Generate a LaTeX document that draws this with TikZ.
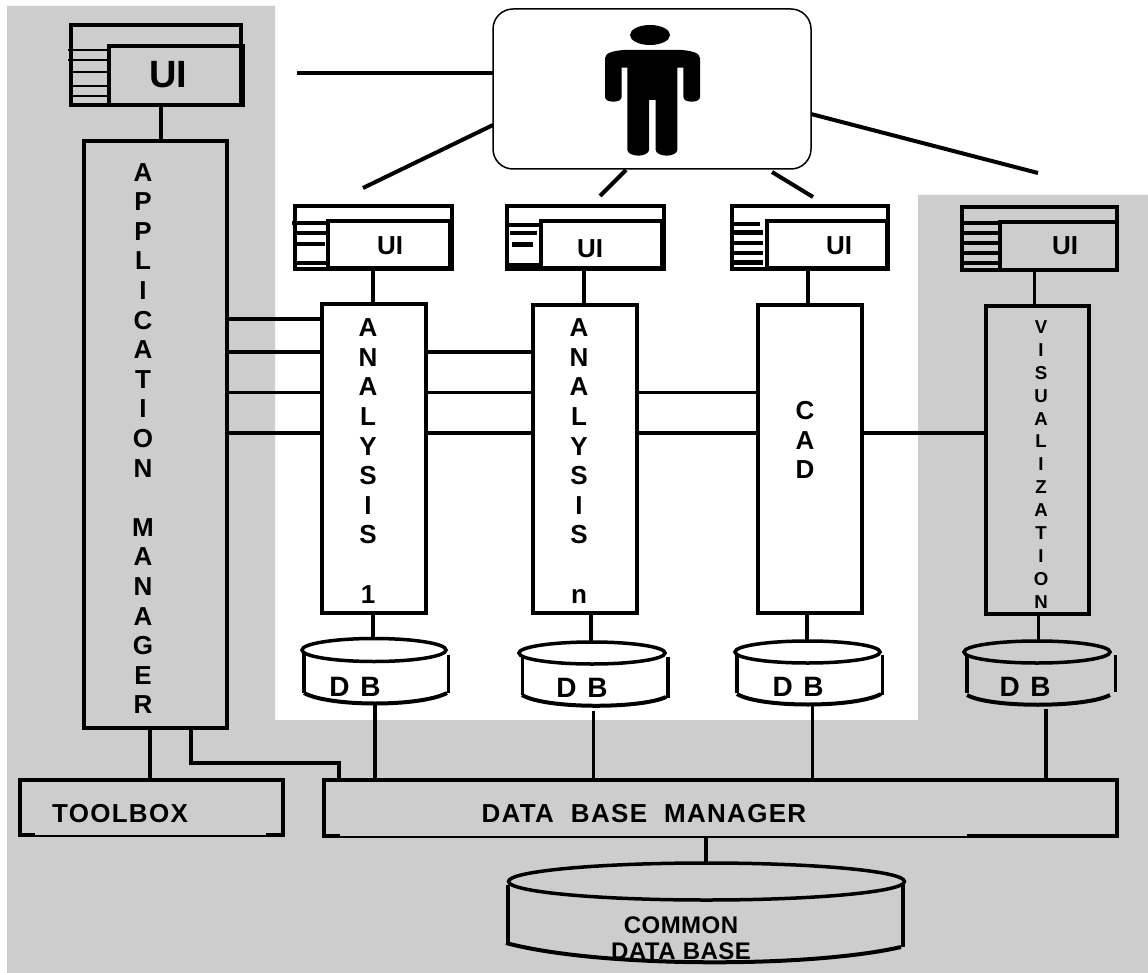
\documentclass[tikz,border=0pt]{standalone}
\usepackage{fontspec}
\setmainfont{Liberation Sans}
\usetikzlibrary{shapes.geometric}
\newfontfamily\wide[LetterSpace=5]{Liberation Sans}
\newfontfamily\slightwide[LetterSpace=2]{Liberation Sans}
\definecolor{panel}{HTML}{CDCDCD}
\newdimen\pxu \pxu=0.75pt
\tikzset{
  lw/.style={line width=#1*\pxu},
  sized/.style 2 args={minimum width=#1*\pxu, minimum height=#2*\pxu, inner sep=0pt, outer sep=0pt},
  frame/.style 2 args={draw, lw=4, sized={#1}{#2}},
  bare/.style 2 args={sized={#1}{#2}},
  disc/.style 2 args={ellipse, draw, lw=3.5, sized={#1}{#2}},
  link/.style={lw=4},
  thinlink/.style={lw=3},
  stripe/.style={lw=2.5},
  fatstripe/.style={lw=4},
  side/.style={lw=4},
  thinside/.style={lw=3},
  biglabel/.style={font=\bfseries\fontsize{28.5pt}{30pt}\selectfont, inner sep=0pt},
  uilabel/.style={font=\bfseries\fontsize{19.5pt}{22pt}\selectfont, inner sep=0pt},
  vtext/.style={font=\bfseries\fontsize{19.5pt}{22.2pt}\selectfont, align=center, inner sep=0pt},
  vsmall/.style={font=\bfseries\fontsize{14pt}{17.2pt}\selectfont, align=center, inner sep=0pt},
  hlabel/.style={font=\wide\bfseries\fontsize{19.5pt}{22pt}\selectfont, inner sep=0pt},
  dblabel/.style={font=\bfseries\fontsize{21pt}{22pt}\selectfont, inner sep=0pt},
  cdblabel/.style={font=\slightwide\bfseries\fontsize{18pt}{19.5pt}\selectfont, inner sep=0pt}
}
\begin{document}
\begin{tikzpicture}[x=0.75pt,y=-0.75pt,line join=miter]
\useasboundingbox (0,0) rectangle (1148,973);
\fill[white] (0,0) rectangle (1148,973);
\fill[panel] (7,6) -- (275,6) -- (275,720) -- (918,720) -- (918,195) -- (1148,195) -- (1148,973) -- (7,973) -- cycle;

% level helpers
\coordinate (r1) at (0,319);
\coordinate (r2) at (0,352);
\coordinate (r3) at (0,392);
\coordinate (r4) at (0,433);

% main boxes
\node[frame={143}{587}] (am) at (155.5,434.5) {};
\node[frame={104}{309}] (an1) at (374,458.5) {};
\node[frame={104}{308}] (ann) at (585,459) {};
\node[frame={104}{308}] (cad) at (810,459) {};
\node[frame={103}{308}] (vis) at (1037.5,460) {};

% text of main boxes
\node[vtext] (amtext) at (143,438.5) {A\\P\\P\\L\\I\\C\\A\\T\\I\\O\\N\\~\\M\\A\\N\\A\\G\\E\\R};
\node[vtext] (an1text) at (368,461) {A\\N\\A\\L\\Y\\S\\I\\S\\~\\1};
\node[vtext] (anntext) at (579,461) {A\\N\\A\\L\\Y\\S\\I\\S\\~\\n};
\node[vtext] (cadtext) at (805,440) {C\\A\\D};
\node[vsmall] (vistext) at (1041,464.5) {V\\I\\S\\U\\A\\L\\I\\Z\\A\\T\\I\\O\\N};

% UI windows
\node[frame={170}{80}] (uiab) at (156,65) {};
\node[frame={134}{59}] (uiaf) at (176,75.5) {};
\node[biglabel] (uiat) at (168,75) {UI};
\node[frame={157}{63}] (ui1b) at (373.5,237.5) {};
\node[frame={122}{47}] (ui1f) at (389,245) {};
\node[uilabel] (ui1t) at (390,246) {UI};
\node[frame={157}{63}] (uinb) at (585.5,237.5) {};
\node[frame={121}{47}] (uinf) at (601.5,245) {};
\node[uilabel] (uint) at (590,249) {UI};
\node[frame={156}{63}] (uicb) at (810,237.5) {};
\node[frame={120}{47}] (uicf) at (827,245) {};
\node[uilabel] (uict) at (839,246) {UI};
\node[frame={155}{63}] (uivb) at (1039.5,238.5) {};
\node[frame={117}{48}] (uivf) at (1058.5,246) {};
\node[uilabel] (uivt) at (1065,246) {UI};

% stripes of the windows
\foreach \yy/\xa in {50/68,60/68,72/71,86/71,96/71} \draw[stripe] (\xa,\yy) -- (uiaf.west |- 0,\yy);
\draw[fatstripe] (292,223) -- (328,223);
\draw[fatstripe] (295,233) -- (328,233);
\draw[fatstripe] (297,244) -- (325,244);
\draw[fatstripe] (297,263) -- (328,263);
\draw[fatstripe] (507,225) -- (541,225);
\draw[fatstripe] (510,233) -- (537,233);
\draw[lw=5] (512,245) -- (533,245);
\draw[fatstripe] (507,265) -- (541,265);
\draw[fatstripe] (732,224) -- (760,224);
\draw[lw=5] (732,233) -- (763,233);
\draw[fatstripe] (732,243) -- (763,243);
\draw[fatstripe] (732,253) -- (763,253);
\draw[lw=5] (732,263) -- (763,263);
\foreach \yy in {223,233,243,253,263} \draw[fatstripe] (962,\yy) -- (1000,\yy);

% person
\node[draw, lw=1.5, fill=white, rounded corners=15pt, sized={318}{160}] (person) at (652,89) {};
\node[ellipse, fill=black, sized={40}{20}] (head) at (650,35) {};
\begin{scope}[shift={(480,0)},scale=0.33333]
\fill[black] (430,150) -- (605,150) .. controls (640,153) and (660,160) .. (660,175) -- (660,290)
  .. controls (660,300) and (650,305) .. (635,305) .. controls (620,305) and (610,300) .. (610,290)
  -- (610,203) -- (592,203) -- (592,450) .. controls (592,460) and (575,467) .. (560,467)
  .. controls (545,467) and (527,460) .. (527,450) -- (527,300) -- (507,300) -- (507,450)
  .. controls (507,460) and (490,467) .. (475,467) .. controls (460,467) and (442,460) .. (442,450)
  -- (442,203) -- (425,203) -- (425,290) .. controls (425,300) and (415,305) .. (400,305)
  .. controls (385,305) and (375,300) .. (375,290) -- (375,175) .. controls (375,160) and (395,153) .. (430,150) -- cycle;
\end{scope}
\coordinate (pfa) at (297,73);
\coordinate (pfb) at (363,188);
\coordinate (pfc) at (600,196);
\coordinate (pfd) at (813,197);
\coordinate (pfe) at (1038,173);
\coordinate (pa) at (person.west |- pfa);
\coordinate (pb) at (493,125);
\coordinate (pc) at (626,170);
\coordinate (pd) at (772,172);
\coordinate (pe) at (811,114);
\draw[link] (pa) -- (pfa);
\draw[link] (pb) -- (pfb);
\draw[link] (pc) -- (pfc);
\draw[link] (pd) -- (pfd);
\draw[link] (pe) -- (pfe);

% UI to box
\coordinate (ca) at (161,0);
\coordinate (c1) at (373,0);
\coordinate (cn) at (584,0);
\coordinate (cc) at (808,0);
\coordinate (cv) at (1034,0);
\draw[link] (uiaf.south -| ca) -- (am.north -| ca);
\draw[link] (ui1f.south -| c1) -- (an1.north -| c1);
\draw[link] (uinf.south -| cn) -- (ann.north -| cn);
\draw[link] (uicf.south -| cc) -- (cad.north -| cc);
\draw[thinlink] (uivf.south -| cv) -- (vis.north -| cv);

% cross links
\draw[link] (am.east |- r1) -- (an1.west |- r1);
\draw[link] (am.east |- r2) -- (an1.west |- r2);
\draw[thinlink] (am.east |- r3) -- (an1.west |- r3);
\draw[link] (am.east |- r4) -- (an1.west |- r4);
\draw[link] (an1.east |- r2) -- (ann.west |- r2);
\draw[thinlink] (an1.east |- r3) -- (ann.west |- r3);
\draw[link] (an1.east |- r4) -- (ann.west |- r4);
\draw[thinlink] (ann.east |- r3) -- (cad.west |- r3);
\draw[link] (ann.east |- r4) -- (cad.west |- r4);
\draw[link] (cad.east |- r4) -- (vis.west |- r4);

% DB cylinders
\node[disc={144}{23}] (db1) at (374,650) {};
\draw[side] (304,653) -- (304,693);
\draw[thinside] (448,655) -- (448,693);
\draw[link] (304,693) .. controls (330,707) and (420,707) .. (447,693);
\node[dblabel] (db1t) at (355,687) {D\kern.1em~B};

\node[disc={146}{22}] (dbn) at (592,653) {};
\draw[thinside] (522,655) -- (522,695);
\draw[side] (668,657) -- (668,698);
\draw[link] (522,695) .. controls (545,709) and (640,709) .. (666,697);
\node[dblabel] (dbnt) at (582,688) {D\kern.1em~B};

\node[disc={145}{22}] (dbc) at (807.5,652) {};
\draw[side] (737,654) -- (737,693);
\draw[thinside] (882,655) -- (882,695);
\draw[link] (737,694) .. controls (760,708) and (855,708) .. (881,694);
\node[dblabel] (dbct) at (798,687) {D\kern.1em~B};

\node[disc={146}{22}] (dbv) at (1037,652) {};
\draw[side] (967,654) -- (967,693);
\draw[thinside] (1115,655) -- (1115,692);
\draw[link] (967,695) .. controls (990,708) and (1085,708) .. (1110,695);
\node[dblabel] (dbvt) at (1025,687) {D\kern.1em~B};

\draw[link] (an1.south -| c1) -- (db1.north -| c1);
\coordinate (cn2) at (591,0);
\coordinate (cc2) at (807,0);
\coordinate (cv2) at (1038,0);
\draw[link] (ann.south -| cn2) -- (dbn.north -| cn2);
\draw[link] (cad.south -| cc2) -- (dbc.north -| cc2);
\draw[thinlink] (vis.south -| cv2) -- (dbv.north -| cv2);

% toolbox and data base manager
\node[bare={263}{55}] (tool) at (151.5,807.5) {};
\draw[side] (35,835) -- (20,835) -- (20,780) -- (283,780) -- (283,835) -- (266,835);
\draw[lw=2] (35,836) -- (266,836);
\node[hlabel] (toolt) at (120,814) {TOOLBOX};
\node[bare={793}{56}] (dbm) at (720.5,808) {};
\draw[side] (340,835.5) -- (324,835.5) -- (324,780) -- (1117,780) -- (1117,835.5) -- (967,835.5);
\draw[lw=2] (340,836.5) -- (967,836.5);
\node[hlabel] (dbmt) at (644,814) {DATA~~BASE~~MANAGER};

\coordinate (cb1) at (150,0);
\coordinate (cb2) at (191,0);
\coordinate (cb3) at (339,0);
\coordinate (rb) at (0,763);
\draw[link] (am.south -| cb1) -- (tool.north -| cb1);
\draw[link] (am.south -| cb2) -- (cb2 |- rb) -- (cb3 |- rb) -- (dbm.north -| cb3);

\coordinate (d1) at (375,0);
\coordinate (d2) at (593,711);
\coordinate (d3) at (812,0);
\coordinate (d4) at (1046,709);
\coordinate (d1top) at (375,703);
\coordinate (d3top) at (812,705);
\draw[link] (d1top) -- (dbm.north -| d1);
\draw[thinlink] (d2) -- (dbm.north -| d2);
\draw[thinlink] (d3top) -- (dbm.north -| d3);
\draw[link] (d4) -- (dbm.north -| d4);

% common data base
\node[disc={396}{37}] (cdb) at (706.5,881.5) {};
\draw[side] (508,885) -- (508,943);
\draw[side] (903,885) -- (903,947);
\draw[link] (506,943) .. controls (600,968) and (810,968) .. (901,947);
\coordinate (cd) at (706,0);
\draw[link] (dbm.south -| cd) -- (cdb.north -| cd);
\node[cdblabel] (cdbt1) at (681,925) {COMMON};
\node[cdblabel] (cdbt2) at (681,951) {DATA BASE};
\end{tikzpicture}
\end{document}
